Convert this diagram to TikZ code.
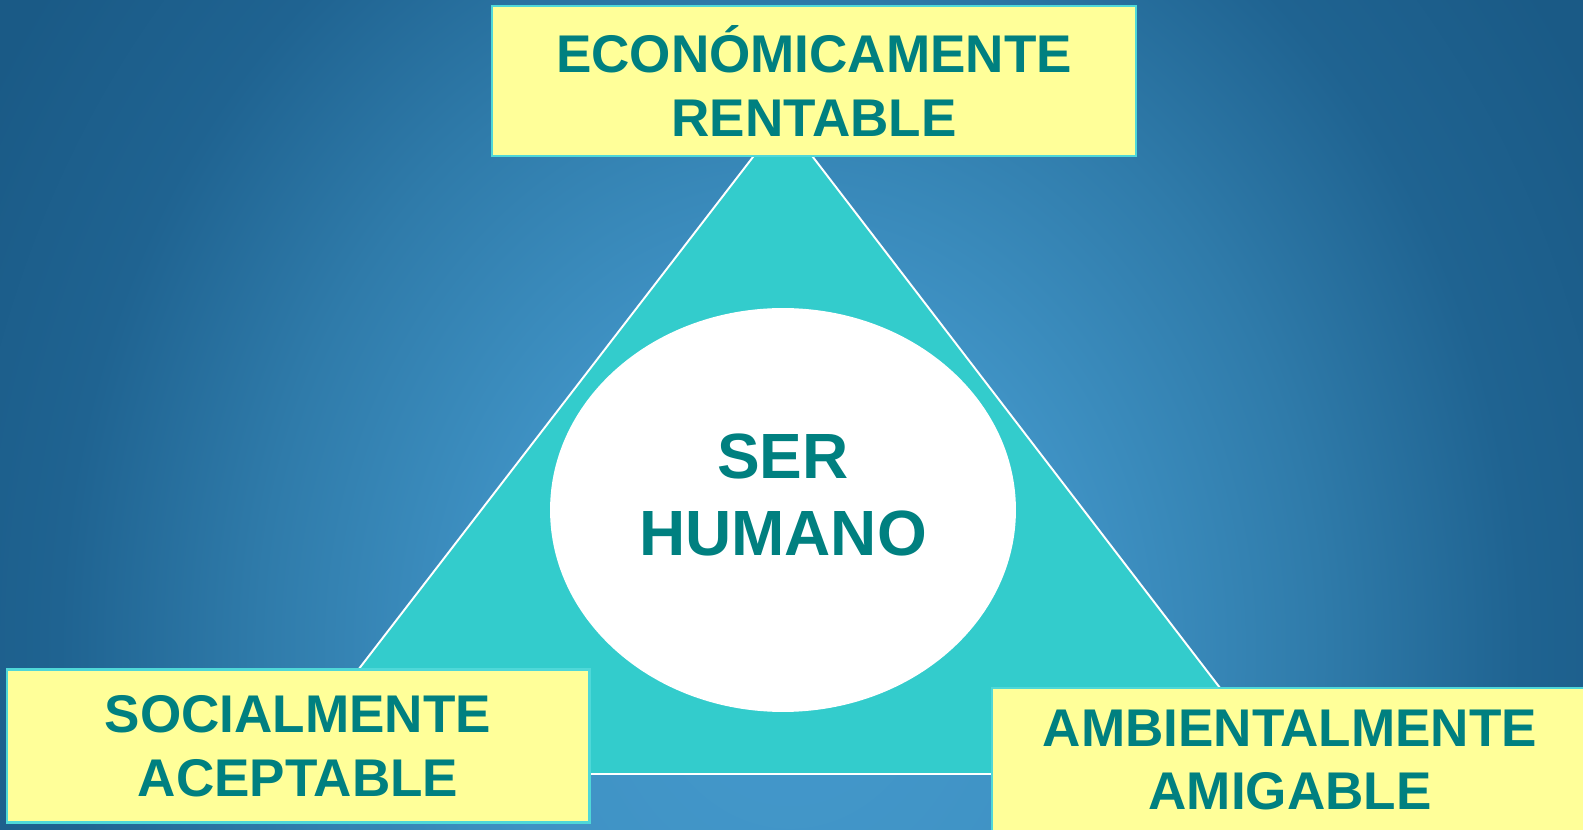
\documentclass[tikz,border=0pt]{standalone}
\usepackage{fontspec}
\setmainfont{Liberation Sans}
\usepackage{tikz}
\usetikzlibrary{shapes.geometric}
\definecolor{azulOscuro}{HTML}{1A5A86}
\definecolor{azulBorde}{HTML}{1F6391}
\definecolor{azulMedio}{HTML}{2F7BAA}
\definecolor{azulSuave}{HTML}{3F92C4}
\definecolor{azulClaro}{HTML}{4499CC}
\definecolor{turquesa}{HTML}{33CCCC}
\definecolor{amarillo}{HTML}{FFFF99}
\definecolor{verdeAzul}{HTML}{008080}
\definecolor{bordeCaja}{HTML}{4FD8D8}
\pgfdeclareradialshading{fondoAzul}{\pgfpoint{0bp}{0bp}}{color(0bp)=(azulClaro); color(9bp)=(azulSuave); color(16bp)=(azulMedio); color(22bp)=(azulBorde); color(28bp)=(azulOscuro); color(40bp)=(azulOscuro)}

\begin{document}
\begin{tikzpicture}[x=0.02cm,y=-0.02cm,
  caja/.style={draw=bordeCaja,line width=1.2pt,fill=amarillo,text=verdeAzul,
    align=center,inner sep=0pt,
    font=\fontsize{30.2pt}{36.4pt}\selectfont\bfseries}]
\useasboundingbox (0,0) rectangle (1583,830);
% fondo
\begin{scope}
\clip (0,0) rectangle (1583,830);
\fill[azulOscuro] (0,0) rectangle (1583,830);
\shade[shading=fondoAzul] (-40,-340) rectangle (1620,1640);
\end{scope}
% triangulo
\coordinate (apex) at (783,118);
\coordinate (izq) at (278,774);
\coordinate (der) at (1286,774);
\fill[turquesa] (apex)--(izq)--(der)--cycle;
\draw[white,line width=1.1pt] (apex)--(izq)--(der)--cycle;
% centro
\node[ellipse,fill=white,inner sep=0pt,minimum width=9.32cm,minimum height=8.08cm] (elipse) at (783,510) {};
\node[text=verdeAzul,align=center,font=\fontsize{36.4pt}{44.3pt}\selectfont\bfseries] (humano) at (783,495) {SER\\HUMANO};
% cajas
\node[caja,minimum width=12.88cm,minimum height=3.0cm] (economico) at (814,81) {ECONÓMICAMENTE\\RENTABLE};
\node[caja,minimum width=11.66cm,minimum height=3.06cm] (social) at (298,746) {SOCIALMENTE\\ACEPTABLE};
\node[caja,minimum width=11.92cm,minimum height=2.88cm] (ambiental) at (1290,760) {AMBIENTALMENTE\\AMIGABLE};
\end{tikzpicture}
\end{document}
